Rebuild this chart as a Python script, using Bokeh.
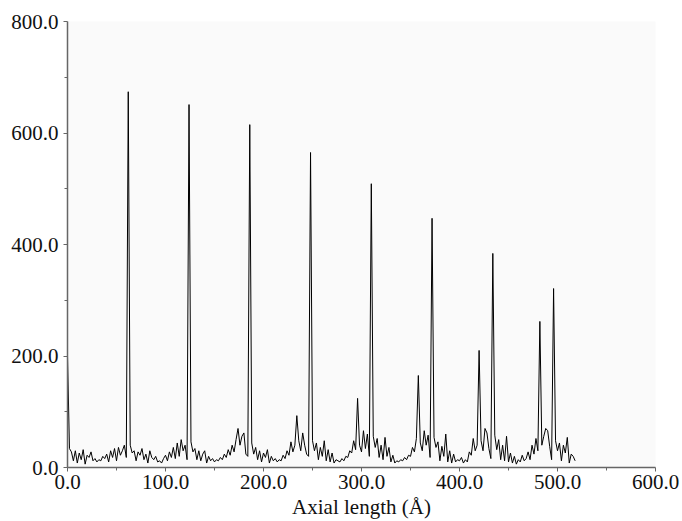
from bokeh.plotting import figure
from bokeh.models import Range1d, FixedTicker, PrintfTickFormatter, ColumnDataSource
from bokeh.embed import file_html
from bokeh.resources import INLINE

# Sampling step of the profile (Angstrom)
STEP = 2.0

# Intensity profile values, one per sample
intensity = [
    # 0 .. 62
    200, 34, 28, 12, 30, 8, 26, 14, 32, 6, 22, 18, 28, 12, 16, 10,
    14, 12, 20, 16, 24, 10, 30, 18, 34, 12, 36, 22, 30, 40, 18, 674,
    # 64 .. 124
    40, 26, 30, 12, 28, 22, 34, 14, 24, 8, 30, 18, 14, 20, 10, 12,
    8, 16, 22, 12, 28, 18, 36, 16, 44, 20, 50, 30, 40, 14, 651,
    # 126 .. 186
    46, 28, 34, 14, 30, 12, 24, 30, 8, 20, 12, 16, 10, 14, 12, 18,
    14, 24, 18, 32, 22, 40, 28, 50, 70, 40, 56, 62, 24, 20, 615,
    # 188 .. 248
    44, 24, 36, 14, 30, 10, 26, 18, 32, 8, 20, 12, 16, 10, 14, 12,
    22, 16, 30, 22, 46, 28, 40, 93, 48, 30, 62, 40, 24, 20, 565,
    # 250 .. 310
    48, 30, 44, 14, 36, 20, 48, 12, 32, 10, 26, 8, 14, 12, 10, 16,
    12, 20, 18, 30, 26, 48, 32, 124, 40, 28, 66, 34, 60, 20, 509,
    # 312 .. 372
    56, 36, 52, 18, 40, 14, 54, 20, 36, 10, 22, 8, 12, 10, 14, 12,
    18, 14, 22, 20, 36, 28, 52, 165, 44, 30, 66, 40, 58, 18, 447,
    # 374 .. 434
    54, 36, 46, 12, 38, 20, 60, 10, 30, 8, 24, 10, 14, 12, 18, 8,
    14, 10, 28, 22, 52, 30, 40, 210, 48, 30, 70, 62, 34, 16, 384,
    # 436 .. 496
    58, 32, 50, 14, 40, 12, 56, 10, 26, 8, 20, 6, 14, 10, 22, 12,
    16, 28, 14, 40, 24, 52, 30, 262, 40, 56, 70, 66, 38, 14, 321,
    # 498 .. 518
    48, 30, 44, 12, 40, 26, 54, 8, 24, 20, 12,
]
axial = [i * STEP for i in range(len(intensity))]

x_ticks = [0, 100, 200, 300, 400, 500, 600]
x_minor = [50, 150, 250, 350, 450, 550]
y_ticks = [0, 200, 400, 600, 800]
y_minor = [100, 300, 500, 700]
x_label = "Axial length (Å)"

SERIF = "Liberation Serif"

src = ColumnDataSource(data=dict(x=axial, y=intensity))

p = figure(width=680, height=521, output_backend="svg", toolbar_location=None,
           x_range=Range1d(0, 600), y_range=Range1d(0, 800),
           min_border_left=67, min_border_right=25, min_border_top=21,
           min_border_bottom=54)

p.line("x", "y", source=src, line_color="black", line_width=1)

p.background_fill_color = "#fafafa"
p.border_fill_color = "white"
p.outline_line_color = None
p.grid.visible = False

p.xaxis.ticker = FixedTicker(ticks=x_ticks, minor_ticks=x_minor)
p.yaxis.ticker = FixedTicker(ticks=y_ticks, minor_ticks=y_minor)
for ax in (p.xaxis, p.yaxis):
    ax.formatter = PrintfTickFormatter(format="%.1f")
    ax.axis_line_color = "#666666"
    ax.axis_line_width = 1.5
    ax.major_tick_line_color = "#666666"
    ax.minor_tick_line_color = "#666666"
    ax.major_tick_out = 4
    ax.major_tick_in = 0
    ax.minor_tick_out = 3
    ax.minor_tick_in = 0
    ax.major_label_text_font = SERIF
    ax.major_label_text_font_size = "21px"
    ax.major_label_text_color = "#111111"
    ax.major_label_standoff = 5

p.xaxis.axis_label = x_label
p.xaxis.axis_label_text_font = SERIF
p.xaxis.axis_label_text_font_size = "21px"
p.xaxis.axis_label_text_font_style = "normal"
p.xaxis.axis_label_text_color = "#111111"
p.xaxis.axis_label_standoff = 3
p.xaxis.major_label_standoff = 3

open("out.html", "w").write(file_html(p, INLINE))
